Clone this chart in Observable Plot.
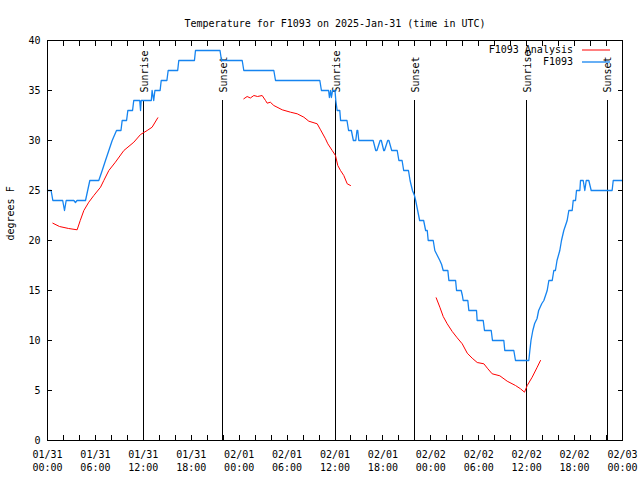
<!DOCTYPE html>
<html><head><meta charset="utf-8">
<script src="https://cdn.jsdelivr.net/npm/d3@7"></script>
<script src="https://cdn.jsdelivr.net/npm/@observablehq/plot@0.6"></script>
<style>body{margin:0;background:#fff} svg{display:block}</style>
</head><body><div id="chart"></div>
<script>
const title = "Temperature for F1093 on 2025-Jan-31 (time in UTC)";
const yLabel = "degrees F";
const tickHours = [0, 6, 12, 18, 24, 30, 36, 42, 48, 54, 60, 66, 72];
const tickLabels = ["01/31\n00:00", "01/31\n06:00", "01/31\n12:00", "01/31\n18:00",
  "02/01\n00:00", "02/01\n06:00", "02/01\n12:00", "02/01\n18:00",
  "02/02\n00:00", "02/02\n06:00", "02/02\n12:00", "02/02\n18:00", "02/03\n00:00"];
const minorTickHours = [0,2,4,6,8,10,12,14,16,18,20,22,24,26,28,30,32,34,36,38,40,42,44,46,48,50,52,54,56,58,60,62,64,66,68,70,72];
const yTicks = [0, 5, 10, 15, 20, 25, 30, 35, 40];
const sunHours = [12.06, 21.95, 36.06, 45.96, 60.02, 70.08];
const sunLabels = ["Sunrise", "Sunset", "Sunrise", "Sunset", "Sunrise", "Sunset"];
const sunLineTop = 34;
const seriesNames = ["F1093 Analysis", "F1093"];
const seriesColors = ["#ff0000", "#1584f0"];

// F1093 observations (hours since 01/31 00:00 UTC, degrees F)
const blueHours = [0,0.45,0.67,1.9,2.13,2.34,3.3,3.5,3.7,4.76,5.3,6.42,6.85,7.26,7.68,8.1,8.64,9.2,9.35,9.9,10.06,10.65,10.8,11.55,11.65,11.73,13.0,13.1,13.3,13.45,14.1,14.24,14.95,15.11,16.3,16.44,18.4,18.53,21.6,21.79,24.38,24.58,28.34,28.55,34.1,34.3,35.2,35.3,35.45,35.55,35.7,35.8,36.0,36.1,36.27,36.6,36.7,37.5,37.7,38.05,38.3,38.6,38.75,38.85,38.98,40.78,41.1,41.25,41.65,41.8,42.1,42.2,42.6,42.75,43.1,43.79,44.0,44.4,44.6,45.2,45.4,45.55,45.7,45.95,46.1,46.35,46.6,47.1,47.35,47.55,47.67,48.3,48.5,48.75,49.13,49.35,49.55,50.13,50.26,51.1,51.22,51.8,51.95,52.05,52.63,52.76,53.72,53.8,54.56,54.72,55.56,55.72,57.14,57.26,58.39,58.6,60.27,60.4,60.54,60.77,61.0,61.3,61.5,61.9,62.15,62.57,62.78,63.2,63.4,63.6,63.8,64.15,64.36,64.65,65.07,65.28,65.7,65.83,66.12,66.24,66.66,66.74,67.08,67.28,67.46,67.78,68.08,70.7,70.84,72];
const blueTemps = [25,25,24,24,23,24,24,23.8,24,24,26,26,27,28,29,30,31,31,32,32,33,33,34,34,33,34,34,35,34,35,35,36,36,37,37,38,38,39,39,38,38,37,37,36,36,35,35,34.3,35,34.3,35,35,35,34,33,33,32,32,31,31,30,30,31,31,30,30,29,29,30,30,29,29,30,30,29,29,28,28,27,27,26,25.5,25,24.5,24,23,22,22,21,21,20,20,19,18.6,18,17.6,17,17,16,16,15,15,14.5,14,14,13,13,12,12,11,11,10,10,9,9,8,8,9,10,11,11.7,12.2,13,13.7,14,15,16,16,17,17,18,19,20,21,22,23,23,24,24,25,25,26,26,25,26,26,25,25,26,26];

// F1093 analysis (three separate segments, gaps as null)
const redHours = [0.67,1.5,2.65,3.71,4.1,4.55,5.17,5.8,6.64,7.05,7.68,8.5,9.56,10.81,11.65,12.48,13.1,13.81,
  18,
  24.58,25.0,25.4,25.84,26.3,26.88,27.3,27.51,27.9,28.34,29.39,30.43,31.27,32.1,32.72,33.77,34.19,34.81,35.1,35.65,36.06,36.35,36.69,37.1,37.53,37.94,
  43,
  48.67,49.13,49.55,50.05,50.68,51.3,51.93,52.56,53.18,53.81,54.64,55.14,55.68,56.64,57.56,58.6,59.23,59.73,60.07,60.69,61.32,61.73];
const redTemps = [21.73,21.4,21.2,21.07,22,23,23.83,24.5,25.33,26,27,27.83,29,29.83,30.6,31,31.33,32.27,
  null,
  34.17,34.4,34.25,34.5,34.4,34.5,34.0,33.73,33.83,33.5,33.07,32.83,32.67,32.33,31.93,31.67,31.07,30.17,29.67,29.0,28.5,27.5,27.0,26.5,25.67,25.5,
  null,
  14.27,13.33,12.4,11.67,10.9,10.27,9.67,8.73,8.23,7.8,7.67,7.17,6.67,6.47,5.93,5.5,5.17,4.83,5.5,6.33,7.33,8];

const W = 640, H = 480, mL = 47, mR = 18, mT = 40, mB = 40;
const font = "'DejaVu Sans Mono', 'Liberation Mono', monospace";

const blue = blueHours.map((h, i) => ({h, t: blueTemps[i]}));
const red = redHours.map((h, i) => ({h, t: redTemps[i]}));
const sun = sunHours.map((h, i) => ({h, label: sunLabels[i]}));
const labelMap = new Map(tickHours.map((h, i) => [h, tickLabels[i]]));
const blank = () => "";

const plot = Plot.plot({
  width: W, height: H,
  marginLeft: mL, marginRight: mR, marginTop: mT, marginBottom: mB,
  style: {fontFamily: font, fontSize: "10px", background: "white", color: "black", overflow: "visible"},
  x: {type: "linear", domain: [0, 72]},
  y: {type: "linear", domain: [0, 40]},
  marks: [
    Plot.ruleX(sun, {x: "h", y1: 0, y2: sunLineTop, stroke: "black", strokeWidth: 1, shapeRendering: "crispEdges"}),
    Plot.text(sun, {x: "h", y: sunLineTop, text: "label", rotate: -90, textAnchor: "start", lineAnchor: "middle", dx: 1, dy: -8, fill: "black"}),
    Plot.line(red, {x: "h", y: "t", stroke: seriesColors[0], strokeWidth: 1}),
    Plot.line(blue, {x: "h", y: "t", stroke: seriesColors[1], strokeWidth: 1.3}),
    Plot.axisX(minorTickHours, {anchor: "bottom", tickSize: -5, tickFormat: blank, label: null, shapeRendering: "crispEdges"}),
    Plot.axisX(minorTickHours, {anchor: "top", tickSize: -5, tickFormat: blank, label: null, shapeRendering: "crispEdges"}),
    Plot.axisX(tickHours, {anchor: "bottom", tickSize: 0, tickPadding: 9, tickFormat: h => labelMap.get(h), label: null, lineHeight: 1.25, strokeOpacity: 0}),
    Plot.axisY(yTicks, {anchor: "left", tickSize: -5, tickPadding: 12, label: null, shapeRendering: "crispEdges"}),
    Plot.axisY(yTicks, {anchor: "right", tickSize: -5, tickFormat: blank, label: null, shapeRendering: "crispEdges"}),
    Plot.frame({stroke: "black", strokeWidth: 1, shapeRendering: "crispEdges"}),
    Plot.text([title], {frameAnchor: "top", dy: -21, text: d => d, fill: "black"}),
    Plot.text([yLabel], {frameAnchor: "left", dx: -37, rotate: -90, text: d => d, fill: "black"}),
    Plot.text(seriesNames, {frameAnchor: "top-right", textAnchor: "end", text: d => d, fill: "black", className: "legend-text"})
  ]
});

// position legend entries (two rows) after render
const svg = d3.select(plot);
svg.selectAll("g.legend-text").attr("transform", null);
svg.selectAll("g.legend-text text").each(function() {
  const row = seriesNames.indexOf(this.textContent);
  const yPix = mT + 10 + row * 12;
  d3.select(this).attr("x", null).attr("y", null)
    .attr("transform", `translate(${W - mR - 49},${yPix})`).attr("dy", "0.32em");
});
seriesNames.forEach((name, row) => {
  const yPix = mT + 10 + row * 12;
  svg.append("line")
    .attr("x1", 582).attr("x2", 610).attr("y1", yPix).attr("y2", yPix)
    .attr("stroke", seriesColors[row]).attr("stroke-width", row === 1 ? 1.3 : 1);
});

document.getElementById("chart").appendChild(plot);
</script>
</body></html>
